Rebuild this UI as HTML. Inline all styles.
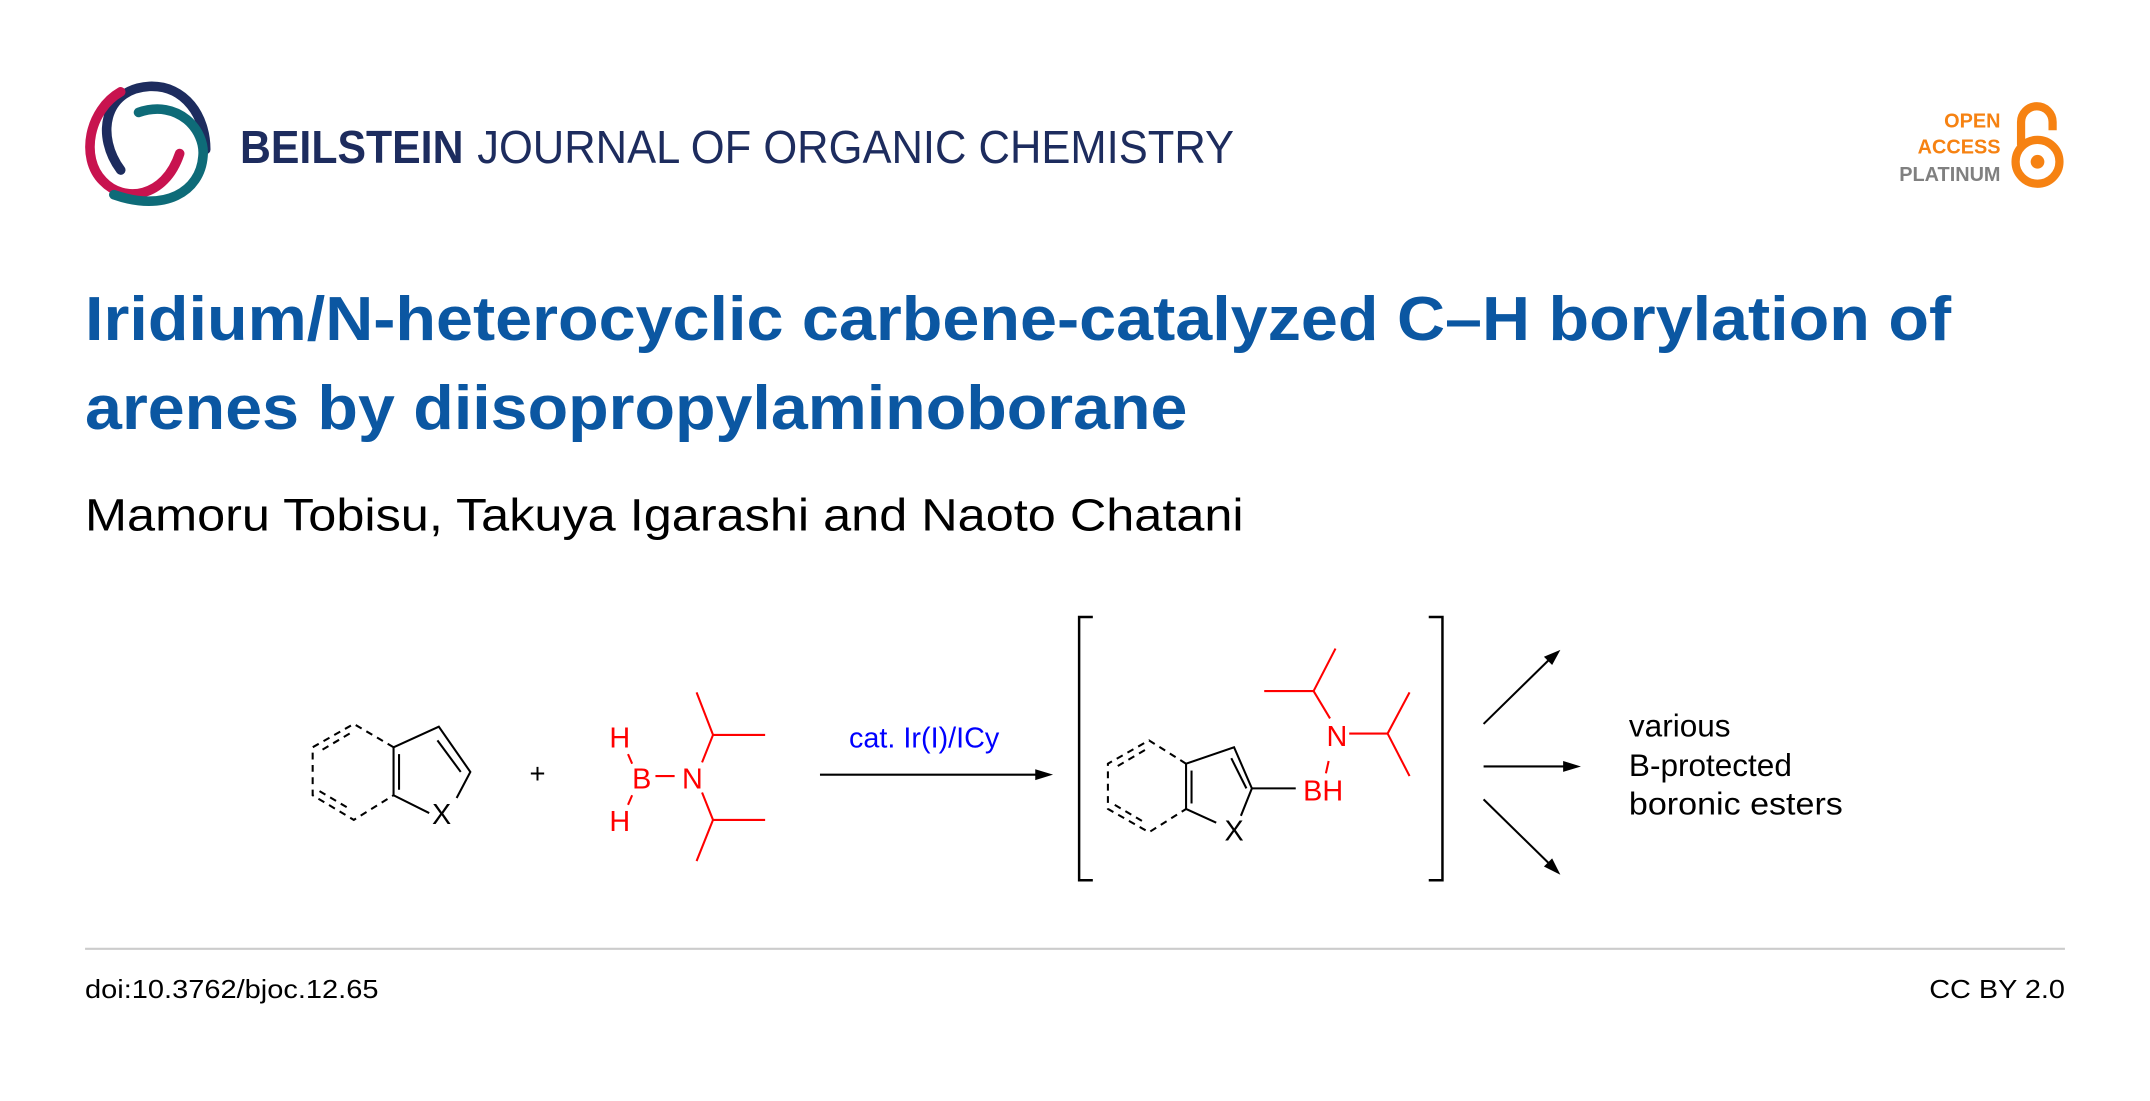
<!DOCTYPE html>
<html><head><meta charset="utf-8"><style>
html,body{margin:0;padding:0;background:#fff;}
svg{display:block;}
</style></head><body>
<svg width="2150" height="1101" viewBox="0 0 1568 803" xmlns="http://www.w3.org/2000/svg" font-family="Liberation Sans, Arial, sans-serif">
<rect width="1568" height="803" fill="#fff"/>
<!-- logo -->
<path d="M88,124 C70,100 75,65 109,63 C135,62 150,85 150,109" fill="none" stroke="#1d2c5e" stroke-width="7" stroke-linecap="round"/>
<path d="M88,67 C65,80 58,115 75,132 C90,148 120,145 131,112" fill="none" stroke="#c8134f" stroke-width="7" stroke-linecap="round"/>
<path d="M101,82 C130,72 150,95 148,114 C146,140 120,155 83,142" fill="none" stroke="#0e6b78" stroke-width="7" stroke-linecap="round"/>
<text x="175" y="119" font-size="34" font-weight="bold" fill="#1d2c5e" textLength="163" lengthAdjust="spacingAndGlyphs">BEILSTEIN</text>
<text x="348" y="119" font-size="34" fill="#1d2c5e" textLength="552" lengthAdjust="spacingAndGlyphs">JOURNAL OF ORGANIC CHEMISTRY</text>
<!-- open access -->
<text x="1459" y="93" font-size="14.5" font-weight="bold" fill="#f68212" text-anchor="end">OPEN</text>
<text x="1459" y="112" font-size="14.5" font-weight="bold" fill="#f68212" text-anchor="end">ACCESS</text>
<text x="1459" y="132" font-size="14.5" font-weight="bold" fill="#808080" text-anchor="end">PLATINUM</text>
<path d="M1474,106 L1474,89 A11.5,11.5 0 0 1 1497,89 L1497,95" fill="none" stroke="#f68212" stroke-width="6"/>
<circle cx="1486" cy="118" r="16" fill="none" stroke="#f68212" stroke-width="6"/>
<circle cx="1486" cy="118" r="5" fill="#f68212"/>
<!-- title -->
<text x="62" y="248" font-size="45" font-weight="bold" fill="#0b57a2" textLength="1361" lengthAdjust="spacingAndGlyphs">Iridium/N-heterocyclic carbene-catalyzed C–H borylation of</text>
<text x="62" y="313" font-size="45" font-weight="bold" fill="#0b57a2" textLength="804" lengthAdjust="spacingAndGlyphs">arenes by diisopropylaminoborane</text>
<text x="62" y="387" font-size="33" fill="#000" textLength="845" lengthAdjust="spacingAndGlyphs">Mamoru Tobisu, Takuya Igarashi and Naoto Chatani</text>
<!-- reactant 1 -->
<g stroke="#000" stroke-width="1.5" fill="none">
<path d="M287,545 L320,530 L343,563 L333,582"/>
<path d="M287,545 L287,580 L313,593"/>
<path d="M291,550 L291,576" />
<path d="M319,540 L336,563"/>
<g stroke-dasharray="5,4">
<path d="M287,545 L258,528 L228,545 L228,580 L258,598 L287,580"/>
<path d="M255,535 L233,548"/>
<path d="M233,577 L255,590"/>
</g>
</g>
<text x="322" y="601" font-size="21" text-anchor="middle">X</text>
<text x="392" y="571" font-size="20" text-anchor="middle">+</text>
<!-- aminoborane -->
<g fill="#f00" font-size="21" text-anchor="middle">
<text x="452" y="545">H</text>
<text x="468" y="575">B</text>
<text x="505" y="575">N</text>
<text x="452" y="606">H</text>
</g>
<g stroke="#f00" stroke-width="1.5" fill="none">
<path d="M458,550 L461,557"/><path d="M458,587 L461,580"/>
<path d="M478,566 L492,566"/>
<path d="M512,556 L520,536 L558,536 M520,536 L508,505"/>
<path d="M512,578 L520,598 L558,598 M520,598 L508,628"/>
</g>
<!-- arrow -->
<path d="M598,565 L758,565" stroke="#000" stroke-width="1.5"/>
<path d="M768,565 L755,561 L755,569 Z" fill="#000"/>
<text x="674" y="545" font-size="21" fill="#00f" text-anchor="middle">cat. Ir(I)/ICy</text>
<!-- brackets -->
<path d="M797,450 L787,450 L787,642 L797,642 M1042,450 L1052,450 L1052,642 L1042,642" fill="none" stroke="#000" stroke-width="1.8"/>
<!-- product -->
<g stroke="#000" stroke-width="1.5" fill="none">
<path d="M865,557 L900,545 L913,575 L905,595"/>
<path d="M865,557 L865,590 L887,600"/>
<path d="M869,562 L869,586"/>
<path d="M898,553 L909,575"/>
<path d="M913,575 L945,575"/>
<g stroke-dasharray="5,4">
<path d="M865,557 L838,540 L808,557 L808,590 L838,607 L865,590"/>
<path d="M835,547 L813,560"/>
<path d="M813,587 L835,600"/>
</g>
</g>
<text x="900" y="613" font-size="21" text-anchor="middle">X</text>
<g fill="#f00" font-size="21" text-anchor="middle">
<text x="965" y="584">BH</text>
<text x="975" y="544">N</text>
</g>
<g stroke="#f00" stroke-width="1.5" fill="none">
<path d="M969,555 L967,564"/>
<path d="M970,524 L958,504 L922,504 M958,504 L974,473"/>
<path d="M984,535 L1012,535 L1028,505 M1012,535 L1028,566"/>
</g>
<!-- three arrows -->
<g stroke="#000" stroke-width="1.5">
<path d="M1082,528 L1132,479"/>
<path d="M1082,559 L1144,559"/>
<path d="M1082,583 L1132,632"/>
</g>
<path d="M1138,474 L1126,479 L1132,485 Z" fill="#000"/>
<path d="M1153,559 L1140,555 L1140,563 Z" fill="#000"/>
<path d="M1138,638 L1126,632 L1132,626 Z" fill="#000"/>
<g font-size="23" fill="#000">
<text x="1188" y="537">various</text>
<text x="1188" y="566">B-protected</text>
<text x="1188" y="594" textLength="156" lengthAdjust="spacingAndGlyphs">boronic esters</text>
</g>
<!-- footer -->
<line x1="62" y1="692" x2="1506" y2="692" stroke="#ccc" stroke-width="1.5"/>
<text x="62" y="728" font-size="19" textLength="214" lengthAdjust="spacingAndGlyphs">doi:10.3762/bjoc.12.65</text>
<text x="1506" y="728" font-size="19" text-anchor="end" textLength="99" lengthAdjust="spacingAndGlyphs">CC BY 2.0</text>
</svg>
</body></html>
